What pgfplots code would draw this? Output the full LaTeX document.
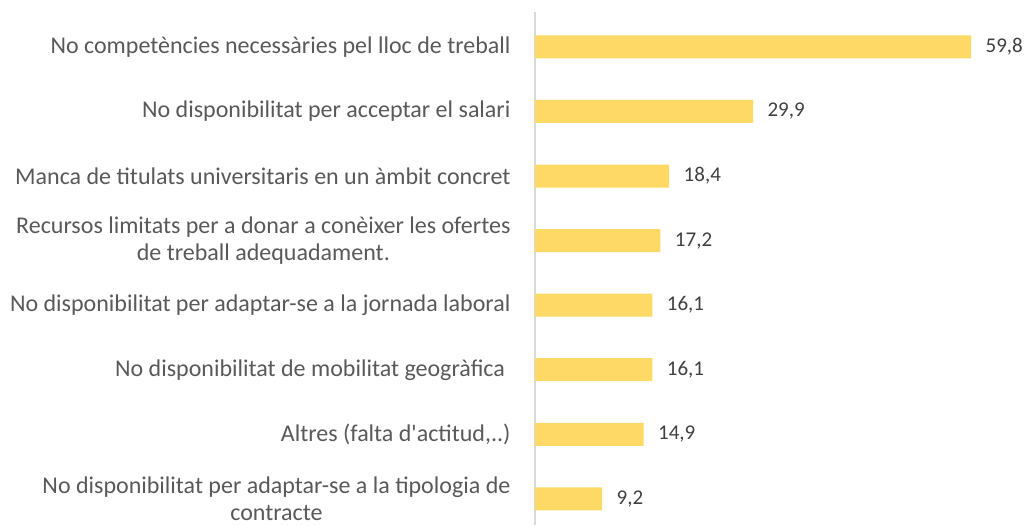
\documentclass[border=0pt]{standalone}
\usepackage{pgfplots}
\pgfplotsset{compat=1.18}
\usepackage{fontspec}
\setmainfont{Carlito}
\definecolor{BarGold}{HTML}{FFD966}
\definecolor{LabelInk}{HTML}{595959}
\definecolor{ValueInk}{HTML}{404040}
\definecolor{AxisGray}{HTML}{D9D9D9}

\pgfplotstableread[col sep=semicolon]{
pos;val
0;59.8
1;29.9
2;18.4
3;17.2
4;16.1
5;16.1
6;14.9
7;9.2
}\barsdata

\begin{document}
\begin{tikzpicture}[x=1pt,y=1pt]
\begin{axis}[
  at={(535pt,513pt)}, anchor=north west,
  scale only axis,
  width=474pt, height=512.7pt,
  xmin=0, xmax=65,
  ymin=-0.54, ymax=7.40,
  y dir=reverse,
  clip=false,
  hide x axis,
  axis y line*=left,
  y axis line style={AxisGray, line width=1.2pt},
  ytick={0,...,7},
  major tick length=0pt,
  yticklabels={
    No competències necessàries pel lloc de treball,
    No disponibilitat per acceptar el salari,
    Manca de titulats universitaris en un àmbit concret,
    {Recursos limitats per a donar a conèixer les ofertes\\de treball adequadament.},
    No disponibilitat per adaptar-se a la jornada laboral,
    {No disponibilitat de mobilitat geogràfica\ },
    {Altres (falta d\textquotesingle actitud,..)},
    {No disponibilitat per adaptar-se a la tipologia de\\contracte}
  },
  yticklabel style={font=\fontsize{24}{26.5}\selectfont, text=LabelInk, align=center, xshift=-21pt},
  xbar, bar width=23pt,
  nodes near coords,
  point meta=explicit,
  every node near coord/.append style={font=\fontsize{21}{24}\selectfont, text=ValueInk,
    anchor=west, xshift=11pt,
    /pgf/number format/.cd, fixed, fixed zerofill, precision=1, use comma, assume math mode=true},
]
\addplot[draw=none, fill=BarGold] table[x=val, y=pos, meta=val] {\barsdata};
\end{axis}
\useasboundingbox (0,0) rectangle (1028,525);
\end{tikzpicture}
\end{document}
